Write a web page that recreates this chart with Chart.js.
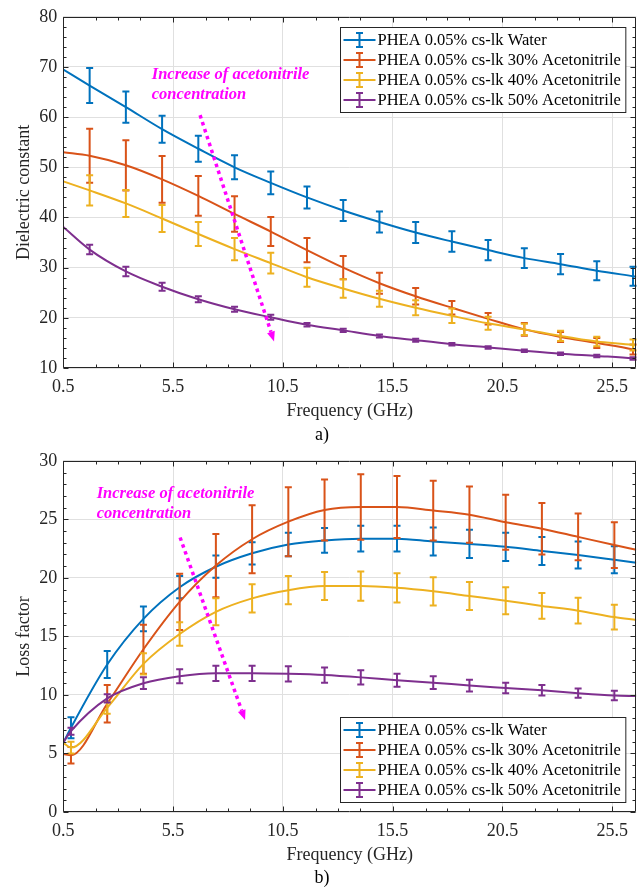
<!DOCTYPE html>
<html>
<head>
<meta charset="utf-8">
<title>PHEA 0.05% cs-lk dielectric spectra</title>
<script src="https://cdn.jsdelivr.net/npm/chart.js@4.4.1/dist/chart.umd.min.js"></script>
<style>
  html, body { margin: 0; padding: 0; background: #ffffff; }
  #wrap { position: relative; width: 644px; height: 888px; }
  .panel { position: absolute; left: 0; width: 644px; height: 444px; }
  canvas { display: block; }
</style>
</head>
<body>
<div id="wrap">
  <div class="panel" style="top:0"><canvas id="cTop" width="644" height="444"></canvas></div>
  <div class="panel" style="top:444px"><canvas id="cBot" width="644" height="444"></canvas></div>
</div>
<script>
// ---------- series names, colours, axis ticks ----------
const seriesLabels = [
  'PHEA 0.05% cs-lk Water',
  'PHEA 0.05% cs-lk 30% Acetonitrile',
  'PHEA 0.05% cs-lk 40% Acetonitrile',
  'PHEA 0.05% cs-lk 50% Acetonitrile'
];
const seriesColors = ['#0072BD', '#D95319', '#EDB120', '#7E2F8E'];
const freqMin = 0.5;
const freqMax = 26.6;
const freqTicks = [0.5, 5.5, 10.5, 15.5, 20.5, 25.5];
const freqMinorTicks = [2, 3, 4, 7, 8, 9, 12, 13, 14, 17, 18, 19, 22, 23, 24];

// ---------- a) dielectric constant ----------
const freqA = [1.7, 3.35, 5.0, 6.65, 8.3, 9.95, 11.6, 13.25, 14.9, 16.55, 18.2, 19.85, 21.5, 23.15, 24.8, 26.45];
const epsWater    = [66.3, 62.0, 57.6, 53.7, 50.0, 46.9, 44.0, 41.4, 39.1, 37.0, 35.2, 33.5, 31.9, 30.7, 29.4, 28.3];
const epsWaterErr = [3.5, 3.1, 2.7, 2.6, 2.4, 2.25, 2.2, 2.1, 2.1, 2.1, 2.05, 2.0, 1.95, 2.0, 1.9, 1.9];
const eps30       = [52.3, 50.4, 47.6, 44.3, 40.7, 37.2, 33.5, 30.0, 26.9, 24.3, 22.0, 19.8, 17.7, 16.2, 15.0, 13.7];
const eps30Err    = [5.4, 5.0, 4.65, 3.95, 3.55, 2.9, 2.4, 2.3, 2.1, 1.65, 1.35, 1.15, 1.25, 1.0, 1.0, 1.0];
const eps40       = [45.4, 42.8, 39.8, 36.7, 33.7, 30.9, 28.1, 25.85, 23.8, 22.0, 20.4, 18.9, 17.7, 16.4, 15.3, 14.6];
const eps40Err    = [3.0, 2.7, 2.7, 2.4, 2.2, 2.05, 1.9, 1.85, 1.6, 1.5, 1.45, 1.3, 1.1, 1.0, 0.95, 1.1];
const eps50       = [33.6, 29.25, 26.2, 23.7, 21.7, 20.1, 18.6, 17.5, 16.4, 15.55, 14.75, 14.1, 13.45, 12.85, 12.4, 11.9];
const eps50Err    = [0.95, 0.95, 0.8, 0.6, 0.5, 0.5, 0.35, 0.3, 0.3, 0.3, 0.25, 0.25, 0.25, 0.25, 0.25, 0.25];
const epsFitStart = [69.5, 53.0, 47.2, 38.1];   // fitted curves at 0.5 GHz
const epsFitEnd   = [28.2, 13.5, 14.5, 11.8];   // fitted curves at 26.6 GHz

// ---------- b) loss factor ----------
const freqB = [0.85, 2.5, 4.15, 5.8, 7.45, 9.1, 10.75, 12.4, 14.05, 15.7, 17.35, 19.0, 20.65, 22.3, 23.95, 25.6];
const lossWater    = [7.2, 12.6, 16.5, 19.2, 20.95, 22.1, 22.85, 23.2, 23.35, 23.35, 23.1, 22.9, 22.65, 22.3, 21.95, 21.55];
const lossWaterErr = [0.9, 1.15, 1.05, 0.95, 0.95, 0.95, 1.0, 1.05, 1.1, 1.1, 1.2, 1.2, 1.2, 1.2, 1.15, 1.15];
const loss30       = [4.85, 9.25, 13.9, 17.95, 21.05, 23.3, 24.8, 25.8, 26.05, 26.05, 25.75, 25.4, 24.75, 24.2, 23.5, 22.8];
const loss30Err    = [0.7, 1.6, 2.1, 2.4, 2.7, 2.9, 2.95, 2.6, 2.8, 2.65, 2.55, 2.4, 2.35, 2.2, 2.0, 1.95];
const loss40       = [5.5, 8.9, 12.65, 15.2, 17.1, 18.25, 18.95, 19.3, 19.3, 19.15, 18.85, 18.45, 18.05, 17.6, 17.2, 16.65];
const loss40Err    = [0.5, 0.5, 0.9, 1.0, 1.15, 1.2, 1.2, 1.2, 1.25, 1.25, 1.2, 1.2, 1.15, 1.1, 1.1, 1.05];
const loss50       = [6.9, 9.7, 11.0, 11.6, 11.85, 11.85, 11.8, 11.7, 11.5, 11.25, 11.05, 10.8, 10.6, 10.4, 10.15, 9.95];
const loss50Err    = [0.3, 0.35, 0.5, 0.6, 0.65, 0.65, 0.65, 0.65, 0.6, 0.55, 0.55, 0.5, 0.45, 0.45, 0.4, 0.4];
const lossFitStart = [5.9, 4.95, 5.9, 5.95];
const lossFitEnd   = [21.3, 22.4, 16.4, 9.9];

// ---------- shared styling ----------
const FONT = "'Liberation Serif', 'Times New Roman', serif";
const AXIS_COLOR = '#262626';
Chart.defaults.font.family = FONT;
Chart.defaults.color = AXIS_COLOR;

// error bars drawn right after each curve, so later series sit on top
const errorBarPlugin = {
  id: 'errorBars',
  afterDatasetDraw(chart, args) {
    const ds = chart.data.datasets[args.index];
    if (!ds.errX) return;
    const { ctx, scales: { x, y } } = chart;
    ctx.save();
    ctx.strokeStyle = ds.borderColor;
    ctx.lineWidth = 2;
    ctx.lineCap = 'butt';
    const cap = 3.5;
    ds.errX.forEach((f, i) => {
      const px = x.getPixelForValue(f);
      const y1 = y.getPixelForValue(ds.errMean[i] + ds.errDev[i]);
      const y2 = y.getPixelForValue(ds.errMean[i] - ds.errDev[i]);
      ctx.beginPath();
      ctx.moveTo(px, y1); ctx.lineTo(px, y2);
      ctx.moveTo(px - cap, y1); ctx.lineTo(px + cap, y1);
      ctx.moveTo(px - cap, y2); ctx.lineTo(px + cap, y2);
      ctx.stroke();
    });
    ctx.restore();
  }
};

// box around the plot with inward major / minor ticks on all four sides
const framePlugin = {
  id: 'frame',
  afterDatasetsDraw(chart, args, opts) {
    const { ctx, chartArea: { left, right, top, bottom }, scales: { x, y } } = chart;
    ctx.save();
    ctx.strokeStyle = AXIS_COLOR;
    ctx.lineWidth = 1;
    const L = Math.round(left) + 0.5, R = Math.round(right) - 0.5;
    const T = Math.round(top) + 0.5, B = Math.round(bottom) - 0.5;
    ctx.beginPath();
    ctx.rect(L, T, R - L, B - T);
    ctx.stroke();
    const tick = (vals, len, horiz) => {
      ctx.beginPath();
      vals.forEach(v => {
        if (horiz) {
          const p = Math.round(x.getPixelForValue(v)) + 0.5;
          ctx.moveTo(p, B); ctx.lineTo(p, B - len);
          ctx.moveTo(p, T); ctx.lineTo(p, T + len);
        } else {
          const p = Math.round(y.getPixelForValue(v)) + 0.5;
          ctx.moveTo(L, p); ctx.lineTo(L + len, p);
          ctx.moveTo(R, p); ctx.lineTo(R - len, p);
        }
      });
      ctx.stroke();
    };
    tick(freqTicks, 5, true);
    tick(freqMinorTicks, 3, true);
    const yMajor = [], yMinor = [];
    for (let v = opts.yMin; v <= opts.yMax + 1e-9; v += opts.yMinorStep) {
      const k = Math.round((v - opts.yMin) / opts.yMinorStep);
      if (Math.abs((v - opts.yMin) % opts.yStep) < 1e-6 || Math.abs(((v - opts.yMin) % opts.yStep) - opts.yStep) < 1e-6) yMajor.push(v);
      else yMinor.push(v);
    }
    tick(yMajor, 5, false);
    tick(yMinor, 3, false);
    ctx.restore();
  }
};

// dotted magenta arrow with its caption
const notePlugin = {
  id: 'note',
  afterDraw(chart, args, opts) {
    const { ctx, scales: { x, y } } = chart;
    ctx.save();
    const x0 = x.getPixelForValue(opts.arrowFrom[0]), y0 = y.getPixelForValue(opts.arrowFrom[1]);
    const x1 = x.getPixelForValue(opts.arrowTo[0]), y1 = y.getPixelForValue(opts.arrowTo[1]);
    const ang = Math.atan2(y1 - y0, x1 - x0);
    const head = 10, hw = 4;
    const bx = x1 - Math.cos(ang) * head, by = y1 - Math.sin(ang) * head;
    ctx.strokeStyle = '#FF00FF';
    ctx.fillStyle = '#FF00FF';
    ctx.lineWidth = 3.5;
    ctx.setLineDash([3.5, 3.8]);
    ctx.beginPath();
    ctx.moveTo(x0, y0); ctx.lineTo(bx, by);
    ctx.stroke();
    ctx.setLineDash([]);
    ctx.beginPath();
    ctx.moveTo(x1, y1);
    ctx.lineTo(bx + Math.sin(ang) * hw, by - Math.cos(ang) * hw);
    ctx.lineTo(bx - Math.sin(ang) * hw, by + Math.cos(ang) * hw);
    ctx.closePath();
    ctx.fill();
    ctx.font = 'italic bold 16.5px ' + FONT;
    ctx.textAlign = 'left';
    ctx.textBaseline = 'middle';
    const tx = x.getPixelForValue(opts.textAt[0]), ty = y.getPixelForValue(opts.textAt[1]);
    opts.lines.forEach((t, i) => ctx.fillText(t, tx, ty + i * 20));
    ctx.restore();
  }
};

// boxed legend with error-bar symbols
const legendBoxPlugin = {
  id: 'legendBox',
  afterDraw(chart, args, opts) {
    const { ctx, chartArea: { right, top, bottom } } = chart;
    const dsets = chart.data.datasets;
    ctx.save();
    ctx.font = '16.5px ' + FONT;
    const textW = Math.max(...dsets.map(d => ctx.measureText(d.label).width));
    const w = 37 + textW + 5, h = 85;
    const bx = Math.round(right - 10.5 - w) + 0.5;
    const by = opts.place === 'top' ? Math.round(top + 10) + 0.5 : Math.round(bottom - 10.5 - h) + 0.5;
    ctx.fillStyle = '#ffffff';
    ctx.fillRect(bx, by, w, h);
    ctx.strokeStyle = AXIS_COLOR;
    ctx.lineWidth = 1;
    ctx.strokeRect(bx, by, w, h);
    dsets.forEach((d, i) => {
      const cy = by + 12.5 + i * 20;
      ctx.strokeStyle = d.borderColor;
      ctx.lineWidth = 2;
      ctx.beginPath();
      ctx.moveTo(bx + 3, cy); ctx.lineTo(bx + 35, cy);
      ctx.moveTo(bx + 19, cy - 7); ctx.lineTo(bx + 19, cy + 7);
      ctx.moveTo(bx + 15.5, cy - 7); ctx.lineTo(bx + 22.5, cy - 7);
      ctx.moveTo(bx + 15.5, cy + 7); ctx.lineTo(bx + 22.5, cy + 7);
      ctx.stroke();
      ctx.fillStyle = '#000000';
      ctx.textAlign = 'left';
      ctx.textBaseline = 'middle';
      ctx.fillText(d.label, bx + 37, cy + 1);
    });
    ctx.restore();
  }
};

// panel letter under the axis title
const panelLabelPlugin = {
  id: 'panelLabel',
  afterDraw(chart, args, opts) {
    const { ctx } = chart;
    ctx.save();
    ctx.font = '18px ' + FONT;
    ctx.fillStyle = '#000000';
    ctx.textAlign = 'center';
    ctx.textBaseline = 'middle';
    ctx.fillText(opts.text, chart.width / 2, opts.y);
    ctx.restore();
  }
};

function buildPanel(p) {
  const datasets = p.means.map((m, i) => ({
    label: seriesLabels[i],
    data: [{ x: freqMin, y: p.start[i] }]
      .concat(p.freq.map((f, j) => ({ x: f, y: m[j] })))
      .concat([{ x: freqMax, y: p.end[i] }]),
    errX: p.freq,
    errMean: m,
    errDev: p.errs[i],
    borderColor: seriesColors[i],
    backgroundColor: seriesColors[i],
    borderWidth: 2,
    pointRadius: 0,
    cubicInterpolationMode: 'monotone',
    fill: false,
    order: 4 - i
  }));

  return new Chart(document.getElementById(p.canvas), {
    type: 'line',
    data: { datasets },
    plugins: [errorBarPlugin, framePlugin, notePlugin, legendBoxPlugin, panelLabelPlugin],
    options: {
      responsive: false,
      animation: false,
      layout: { padding: { left: 0, right: 7.7, top: 15.5, bottom: 0 } },
      plugins: {
        legend: { display: false },
        tooltip: { enabled: false },
        frame: { yMin: p.yMin, yMax: p.yMax, yStep: p.yStep, yMinorStep: p.yMinorStep },
        note: { arrowFrom: p.arrowFrom, arrowTo: p.arrowTo, textAt: p.textAt,
                lines: ['Increase of acetonitrile', 'concentration'] },
        legendBox: { place: p.legendPlace },
        panelLabel: { text: p.label, y: p.labelY }
      },
      scales: {
        x: {
          type: 'linear',
          min: freqMin,
          max: freqMax,
          afterBuildTicks: s => { s.ticks = freqTicks.map(v => ({ value: v })); },
          afterFit: s => { s.height = 76; },
          ticks: {
            autoSkip: false, maxRotation: 0, padding: 8,
            font: { size: 18, family: FONT }, color: AXIS_COLOR,
            callback: v => Number(v).toFixed(1)
          },
          grid: { color: '#e0e0e0', lineWidth: 1, drawTicks: false },
          border: { display: false },
          title: {
            display: true, text: 'Frequency (GHz)', color: AXIS_COLOR,
            font: { size: 18, family: FONT, lineHeight: 1.2 },
            padding: { top: 0, bottom: 22 }
          }
        },
        y: {
          type: 'linear',
          min: p.yMin,
          max: p.yMax,
          afterFit: s => { s.width = 63.3; },
          ticks: {
            stepSize: p.yStep, padding: 6,
            font: { size: 18, family: FONT }, color: AXIS_COLOR
          },
          grid: { color: '#e0e0e0', lineWidth: 1, drawTicks: false },
          border: { display: false },
          title: {
            display: true, text: p.yTitle, color: AXIS_COLOR,
            font: { size: 18, family: FONT, lineHeight: 1.2 },
            padding: { top: 13.7, bottom: 0 }
          }
        }
      }
    }
  });
}

buildPanel({
  canvas: 'cTop',
  freq: freqA,
  means: [epsWater, eps30, eps40, eps50],
  errs: [epsWaterErr, eps30Err, eps40Err, eps50Err],
  start: epsFitStart,
  end: epsFitEnd,
  yMin: 10, yMax: 80, yStep: 10, yMinorStep: 2,
  yTitle: 'Dielectric constant',
  legendPlace: 'top',
  arrowFrom: [6.73, 60.4], arrowTo: [10.1, 15.3],
  textAt: [4.53, 68.4],
  label: 'a)', labelY: 435.5
});

buildPanel({
  canvas: 'cBot',
  freq: freqB,
  means: [lossWater, loss30, loss40, loss50],
  errs: [lossWaterErr, loss30Err, loss40Err, loss50Err],
  start: lossFitStart,
  end: lossFitEnd,
  yMin: 0, yMax: 30, yStep: 5, yMinorStep: 1,
  yTitle: 'Loss factor',
  legendPlace: 'bottom',
  arrowFrom: [5.82, 23.45], arrowTo: [8.78, 7.86],
  textAt: [2.02, 27.2],
  label: 'b)', labelY: 434
});
</script>
</body>
</html>
